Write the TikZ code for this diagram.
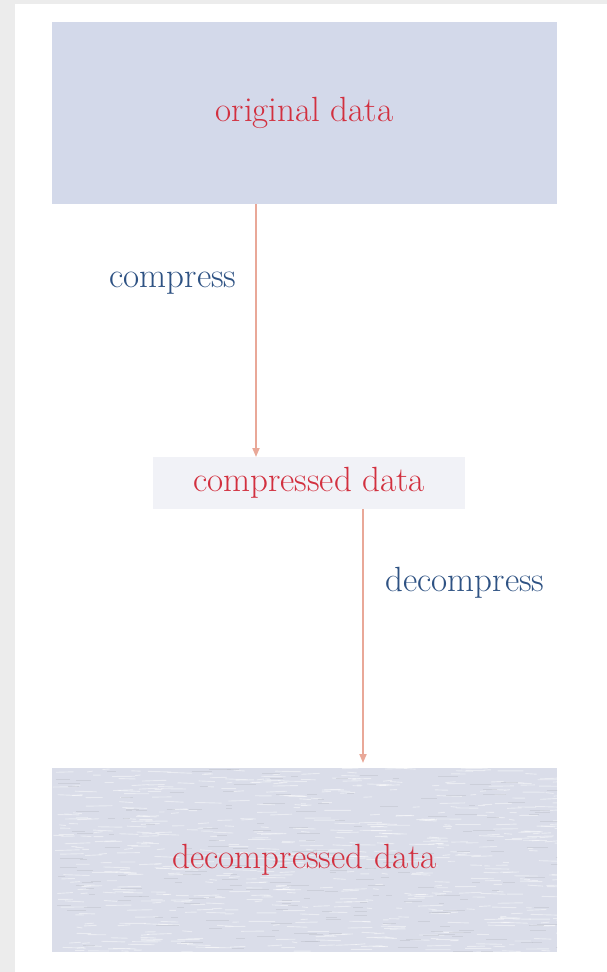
\documentclass[tikz,border=0pt]{standalone}
\usepackage{fontspec}
\usetikzlibrary{arrows.meta,calc}
\definecolor{pagegray}{HTML}{ECECEC}
\definecolor{boxA}{HTML}{D3D9EA}
\definecolor{boxB}{HTML}{F1F2F7}
\definecolor{boxC}{HTML}{DADDE9}
\definecolor{arrowc}{HTML}{E9A898}
\definecolor{redtxt}{HTML}{D2303F}
\definecolor{bluetxt}{HTML}{2E5283}
\tikzset{
  bigfont/.style={font=\fontsize{35}{40}\selectfont},
  databox/.style={bigfont, text=redtxt, inner sep=0pt, outer sep=0pt, draw=none},
  oplabel/.style={bigfont, text=bluetxt, inner sep=0pt},
  flow/.style={draw=arrowc, line width=1.8pt, -{Triangle[width=7pt,length=9pt]}},
  texture/.style={path picture={
      \pgfmathsetseed{4242}
      \foreach \k in {1,...,650}{
        \pgfmathsetmacro\px{rnd*505}
        \pgfmathsetmacro\py{rnd*184}
        \pgfmathsetmacro\pl{5+rnd*22}
        \pgfmathsetmacro\pw{rnd*2-1}
        \draw[white,opacity=.45,line width=.9pt]
          ([shift={(\px pt,\py pt)}]path picture bounding box.south west)
          -- ++(\pl pt,\pw pt);
      }
      \foreach \k in {1,...,200}{
        \pgfmathsetmacro\px{rnd*505}
        \pgfmathsetmacro\py{rnd*184}
        \pgfmathsetmacro\pl{5+rnd*18}
        \draw[black!12!boxC,opacity=.5,line width=.7pt]
          ([shift={(\px pt,\py pt)}]path picture bounding box.south west)
          -- ++(\pl pt,0);
      }
  }}
}
\begin{document}
\begin{tikzpicture}[x=1pt,y=-1pt]
  \useasboundingbox (0,0) rectangle (607,972);
  \fill[pagegray] (0,0) rectangle (607,972);
  \fill[white] (15,4) rectangle (607,972);

  \node[databox, fill=boxA, minimum width=505pt, minimum height=182pt]
    (orig) at (304.5,113) {original data};
  \node[databox, fill=boxB, minimum width=312pt, minimum height=52pt]
    (comp) at (309,483) {compressed data};
  \node[databox, fill=boxC, texture, minimum width=505pt, minimum height=184pt]
    (decomp) at (304.5,860) {decompressed data};

  \draw[flow] ([xshift=-48.5pt]orig.south) -- ([xshift=-48.5pt]orig.south |- comp.north);
  \draw[flow, shorten >=5pt] ([xshift=54pt]comp.south) -- ([xshift=54pt]comp.south |- decomp.north);

  \node[oplabel] (lcomp) at (173,283) {compress};
  \node[oplabel] (ldecomp) at (465,583) {decompress};
\end{tikzpicture}
\end{document}
